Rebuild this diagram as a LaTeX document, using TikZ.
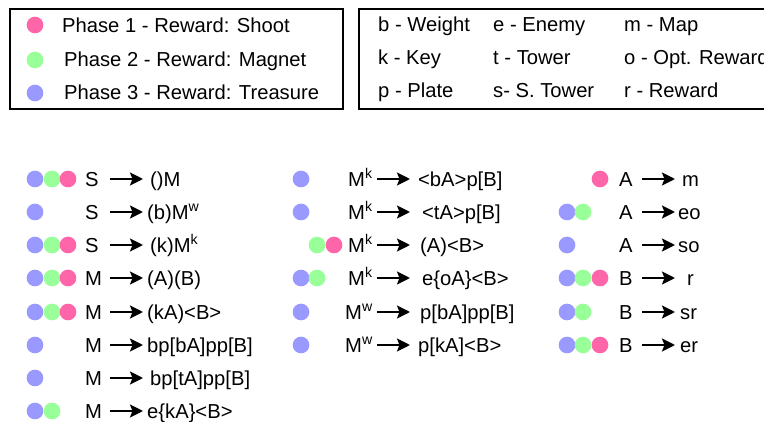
\documentclass[tikz,border=0pt]{standalone}
\usepackage{fontspec}
\setmainfont{Liberation Sans}
\usetikzlibrary{arrows.meta}
\definecolor{pk}{HTML}{FF66AA}
\definecolor{gr}{HTML}{99FF99}
\definecolor{bl}{HTML}{9999FF}
\newcommand\pr[8]{%
  \node[txt] (#1l) at (#3,#2+7.3) {#4};
  \coordinate (#1s) at (#5,#2);
  \coordinate (#1e) at (#6,#2);
  \draw[arr] (#1s) -- (#1e);
  \node[txt] (#1r) at (#7,#2+7.3) {#8};}
\newcommand\dt[4]{\node[dot,fill=#4] (#1) at (#2,#3) {};}
\newcommand\sk{M\textsuperscript{k}}
\newcommand\sw{M\textsuperscript{w}}
\begin{document}
\begin{tikzpicture}[x=1pt,y=-1pt,
  txt/.style={anchor=base west,inner sep=0pt,font=\fontsize{20.2}{24}\selectfont},
  dot/.style={circle,inner sep=0pt,minimum size=16.7pt},
  arr/.style={line width=2.2pt,-{Stealth[length=13pt,width=13pt,inset=2.5pt]}},
  legbox/.style={draw,line width=1.2pt}]
\clip (0,0) rectangle (764,422);
\fill[white] (0,0) rectangle (764,422);
% legend 1
\draw[legbox] (10,9) rectangle (343,109);
\dt{l1}{35}{25}{pk}\dt{l2}{35}{60}{gr}\dt{l3}{35}{93}{bl}
\node[txt] (t1) at (62,33) {Phase 1 - Reward: Shoot};
\node[txt] (t2) at (64,67) {Phase 2 - Reward: Magnet};
\node[txt] (t3) at (64,100) {Phase 3 - Reward: Treasure};
% legend 2
\draw[legbox] (359,9) rectangle (790,109);
\node[txt] (k1) at (378,32) {b - Weight};
\node[txt] (k2) at (378,65) {k - Key};
\node[txt] (k3) at (378,98) {p - Plate};
\node[txt] (k4) at (493,32) {e - Enemy};
\node[txt] (k5) at (493,65) {t - Tower};
\node[txt] (k6) at (493,98) {s- S. Tower};
\node[txt] (k7) at (624,32) {m - Map};
\node[txt] (k8) at (624,65) {o - Opt. Reward};
\node[txt] (k9) at (624,98) {r - Reward};
% left column dots
\dt{a1b}{35}{179}{bl}\dt{a1g}{52}{179}{gr}\dt{a1p}{68}{179}{pk}
\dt{a2b}{35}{212}{bl}
\dt{a3b}{35}{245}{bl}\dt{a3g}{52}{245}{gr}\dt{a3p}{68}{245}{pk}
\dt{a4b}{35}{278}{bl}\dt{a4g}{52}{278}{gr}\dt{a4p}{68}{278}{pk}
\dt{a5b}{35}{312}{bl}\dt{a5g}{52}{312}{gr}\dt{a5p}{68}{312}{pk}
\dt{a6b}{35}{345}{bl}
\dt{a7b}{35}{378}{bl}
\dt{a8b}{35}{411}{bl}\dt{a8g}{52}{411}{gr}
% left column rules
\pr{a1}{179}{85}{S}{110}{143}{150}{()M}
\pr{a2}{212}{85}{S}{110}{143}{147}{(b)\sw}
\pr{a3}{245}{85}{S}{110}{143}{150}{(k)\sk}
\pr{a4}{278}{85}{M}{110}{143}{147}{(A)(B)}
\pr{a5}{312}{85}{M}{110}{143}{147}{(kA)<B>}
\pr{a6}{345}{85}{M}{110}{143}{147}{bp[bA]pp[B]}
\pr{a7}{378}{85}{M}{110}{143}{150}{bp[tA]pp[B]}
\pr{a8}{411}{85}{M}{110}{143}{147}{e\{kA\}<B>}
% middle column dots
\dt{b1b}{301}{179}{bl}
\dt{b2b}{301}{212}{bl}
\dt{b3g}{317}{245}{gr}\dt{b3p}{334}{245}{pk}
\dt{b4b}{301}{278}{bl}\dt{b4g}{317}{278}{gr}
\dt{b5b}{301}{312}{bl}
\dt{b6b}{301}{345}{bl}
% middle column rules
\pr{b1}{179}{348}{\sk}{377}{410}{418}{<bA>p[B]}
\pr{b2}{212}{348}{\sk}{377}{410}{422}{<tA>p[B]}
\pr{b3}{245}{348}{\sk}{377}{410}{420}{(A)<B>}
\pr{b4}{278}{348}{\sk}{377}{410}{422}{e\{oA\}<B>}
\pr{b5}{312}{345}{\sw}{377}{410}{420}{p[bA]pp[B]}
\pr{b6}{345}{345}{\sw}{377}{410}{418}{p[kA]<B>}
% right column dots
\dt{c1p}{600}{179}{pk}
\dt{c2b}{567}{212}{bl}\dt{c2g}{583}{212}{gr}
\dt{c3b}{567}{245}{bl}
\dt{c4b}{567}{278}{bl}\dt{c4g}{583}{278}{gr}\dt{c4p}{600}{278}{pk}
\dt{c5b}{567}{312}{bl}\dt{c5g}{583}{312}{gr}
\dt{c6b}{567}{345}{bl}\dt{c6g}{583}{345}{gr}\dt{c6p}{600}{345}{pk}
% right column rules
\pr{c1}{179}{619}{A}{642}{675}{682}{m}
\pr{c2}{212}{619}{A}{642}{675}{678}{eo}
\pr{c3}{245}{619}{A}{642}{675}{678}{so}
\pr{c4}{278}{619}{B}{642}{675}{687}{r}
\pr{c5}{312}{619}{B}{642}{675}{680}{sr}
\pr{c6}{345}{619}{B}{642}{675}{680}{er}
\end{tikzpicture}
\end{document}
